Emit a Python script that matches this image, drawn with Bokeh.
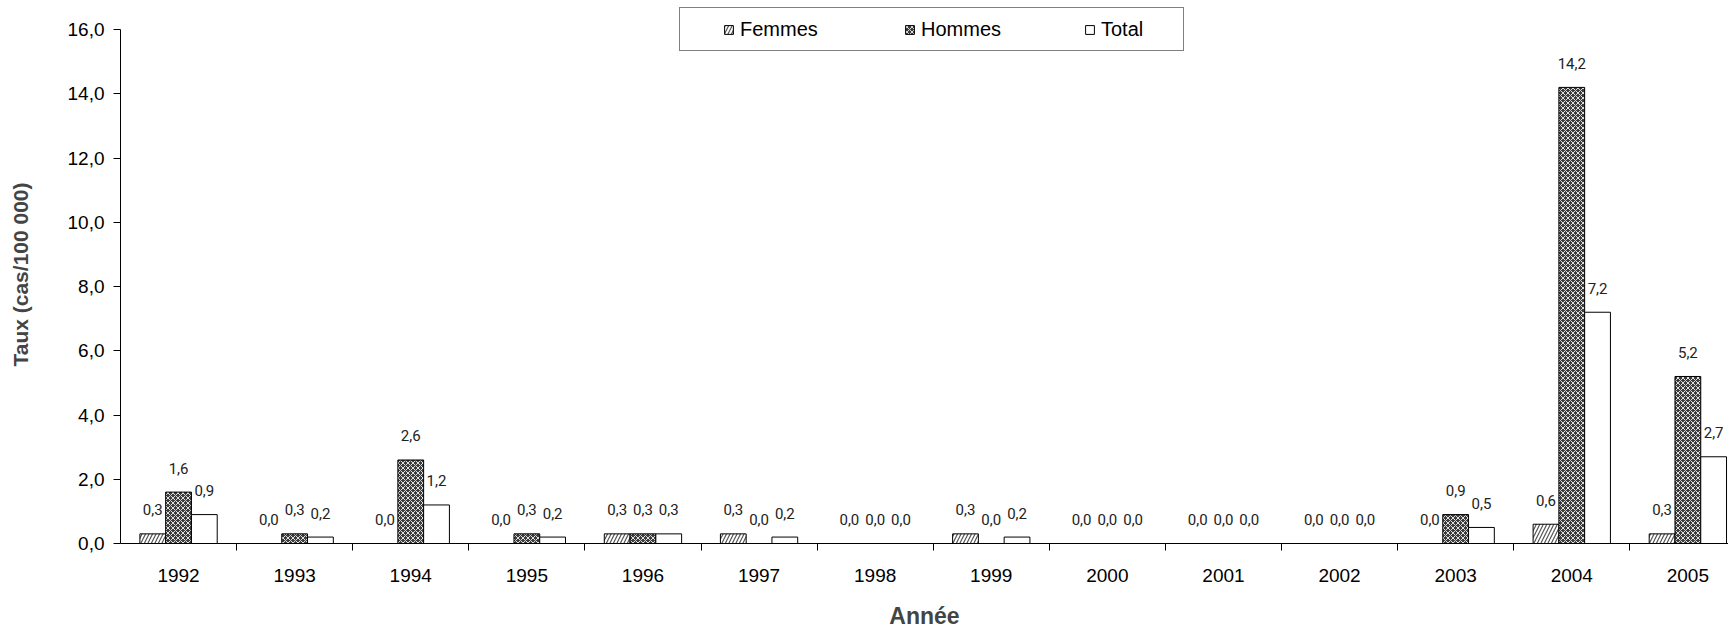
from bokeh.plotting import figure
from bokeh.models import ColumnDataSource, FixedTicker, Legend, LegendItem, Range1d
from bokeh.core.properties import value
from bokeh.embed import file_html
from bokeh.resources import INLINE

years = [1992, 1993, 1994, 1995, 1996, 1997, 1998, 1999, 2000, 2001, 2002, 2003, 2004, 2005]
femmes = [0.3, 0.0, 0.0, 0.0, 0.3, 0.3, 0.0, 0.3, 0.0, 0.0, 0.0, 0.0, 0.6, 0.3]
hommes = [1.6, 0.3, 2.6, 0.3, 0.3, 0.0, 0.0, 0.0, 0.0, 0.0, 0.0, 0.9, 14.2, 5.2]
total = [0.9, 0.2, 1.2, 0.2, 0.3, 0.2, 0.0, 0.2, 0.0, 0.0, 0.0, 0.5, 7.2, 2.7]
series_names = ["Femmes", "Hommes", "Total"]
y_ticks = [0, 2, 4, 6, 8, 10, 12, 14, 16]

def fmt(v):
    return ("%.1f" % v).replace(".", ",")

# frame reaches the top of the canvas so the legend sits inside it; the axis is bounded to 0-16
p = figure(width=1728, height=631, output_backend="svg", toolbar_location=None,
           x_range=Range1d(years[0] - 0.5, years[-1] + 0.35), y_range=Range1d(0, 16.75),
           min_border_left=120, min_border_right=0, min_border_top=5, min_border_bottom=88)
p.outline_line_color = None
p.xgrid.grid_line_color = None
p.ygrid.grid_line_color = None
p.background_fill_color = "white"

bw = 0.222
offsets = [-bw, 0.0, bw]
styles = [
    dict(fill_color="white", hatch_pattern="/", hatch_color="#555555", hatch_scale=7, hatch_weight=1.2),
    dict(fill_color="#3c3c3c", hatch_pattern="x", hatch_color="#e0e0e0", hatch_scale=5, hatch_weight=1.0),
    dict(fill_color="white"),
]
renderers = []
for vals, off, st in zip([femmes, hommes, total], offsets, styles):
    src = ColumnDataSource(dict(x=[y + off for y in years], top=vals, lab=[fmt(v) for v in vals]))
    r = p.vbar(x="x", top="top", bottom=0, width=bw, source=src, line_color="black", line_width=1, **st)
    renderers.append(r)
    p.text(x="x", y="top", text="lab", source=src, text_align="center", text_baseline="middle",
           y_offset=-24, text_font=value("Roboto"), text_font_size="15px",
           text_color="#222222")

# axes
p.xaxis.ticker = FixedTicker(ticks=years, minor_ticks=[y + 0.5 for y in years[:-1]])
p.xaxis.major_label_overrides = {y: str(y) for y in years}
p.xaxis.major_tick_out = 0
p.xaxis.major_tick_in = 0
p.xaxis.minor_tick_out = 7
p.xaxis.minor_tick_in = 0
p.xaxis.minor_tick_line_color = "black"
p.xaxis.major_label_standoff = 18
p.xaxis.major_label_text_font = "Liberation Sans"
p.xaxis.major_label_text_font_size = "19px"
p.xaxis.major_label_text_color = "black"
p.xaxis.axis_label = "Année"
p.xaxis.axis_label_text_font = "Liberation Sans"
p.xaxis.axis_label_text_font_style = "bold"
p.xaxis.axis_label_text_font_size = "23px"
p.xaxis.axis_label_standoff = 18
p.xaxis.axis_line_color = "black"

p.yaxis.ticker = FixedTicker(ticks=y_ticks, minor_ticks=[])
p.yaxis.bounds = (y_ticks[0], y_ticks[-1])
p.yaxis.major_label_overrides = {t: fmt(t) for t in y_ticks}
p.yaxis.major_tick_out = 7
p.yaxis.major_tick_in = 0
p.yaxis.minor_tick_out = 0
p.yaxis.major_label_standoff = 9
p.yaxis.major_label_text_font = "Liberation Sans"
p.yaxis.major_label_text_font_size = "19px"
p.yaxis.major_label_text_color = "black"
p.yaxis.axis_label = "Taux (cas/100 000)"
p.yaxis.axis_label_text_font = "Liberation Sans"
p.yaxis.axis_label_text_font_style = "bold"
p.yaxis.axis_label_text_font_size = "21px"
p.yaxis.axis_label_standoff = 33
p.yaxis.axis_line_color = "black"

# legend frame (a box with one blank entry)
legend_box = Legend(items=[LegendItem(label=" ", renderers=[])],
                    orientation="horizontal", location=(559, 492),
                    border_line_color="black", border_line_width=1, background_fill_color="white",
                    background_fill_alpha=1, padding=10, glyph_width=11, glyph_height=11,
                    label_standoff=6, label_text_font="Liberation Sans", label_text_font_size="20px",
                    label_width=466, label_height=22, margin=0)
p.add_layout(legend_box)

# one entry per series, placed along the box
entry_x = [603, 784, 964]
for n, r, ex in zip(series_names, renderers, entry_x):
    lg = Legend(items=[LegendItem(label=n, renderers=[r])],
                orientation="horizontal", location=(ex, 502),
                border_line_color=None, background_fill_alpha=0,
                padding=0, glyph_width=11, glyph_height=11,
                label_standoff=6, label_text_font="Liberation Sans", label_text_font_size="20px",
                label_text_color="black", margin=0)
    p.add_layout(lg)

open("out.html", "w").write(file_html(p, INLINE))
